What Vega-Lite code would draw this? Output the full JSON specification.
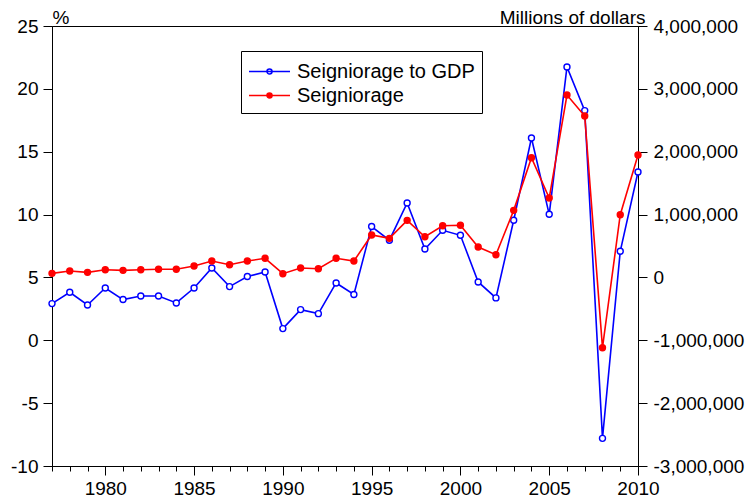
{
  "$schema": "https://vega.github.io/schema/vega-lite/v6.json",
  "width": 586,
  "height": 440,
  "autosize": {"type": "none"},
  "padding": {"left": 52, "top": 26, "right": 118, "bottom": 36},
  "background": "white",
  "config": {
    "view": {"stroke": "black", "strokeWidth": 1},
    "font": "Liberation Sans",
    "axis": {
      "domainColor": "black",
      "tickColor": "black",
      "labelColor": "black",
      "titleColor": "black",
      "grid": false,
      "labelFont": "Liberation Sans",
      "titleFont": "Liberation Sans",
      "labelFontSize": 19,
      "titleFontSize": 19,
      "titleFontWeight": "normal"
    },
    "legend": {
      "orient": "none",
      "legendX": 189,
      "legendY": 25,
      "padding": 7,
      "fillColor": "white",
      "strokeColor": "black",
      "symbolType": "M-1,0L2.28,0M0.44,0A0.2,0.2,0,1,1,0.84,0A0.2,0.2,0,1,1,0.44,0Z",
      "symbolSize": 625,
      "symbolStrokeWidth": 1.6,
      "symbolOpacity": 1,
      "labelOffset": 22,
      "labelFontSize": 20,
      "labelLimit": 0,
      "labelFont": "Liberation Sans",
      "labelColor": "black",
      "rowPadding": 0
    }
  },
  "data": {
    "values": [
      {"year": 1977, "ratio": 2.92, "seign": 65000},
      {"year": 1978, "ratio": 3.82, "seign": 102000},
      {"year": 1979, "ratio": 2.81, "seign": 81000},
      {"year": 1980, "ratio": 4.16, "seign": 122000},
      {"year": 1981, "ratio": 3.24, "seign": 113000},
      {"year": 1982, "ratio": 3.52, "seign": 122000},
      {"year": 1983, "ratio": 3.52, "seign": 129000},
      {"year": 1984, "ratio": 2.97, "seign": 129000},
      {"year": 1985, "ratio": 4.16, "seign": 181000},
      {"year": 1986, "ratio": 5.75, "seign": 261000},
      {"year": 1987, "ratio": 4.27, "seign": 202000},
      {"year": 1988, "ratio": 5.07, "seign": 261000},
      {"year": 1989, "ratio": 5.43, "seign": 304000},
      {"year": 1990, "ratio": 0.93, "seign": 59000},
      {"year": 1991, "ratio": 2.44, "seign": 150000},
      {"year": 1992, "ratio": 2.12, "seign": 138000},
      {"year": 1993, "ratio": 4.56, "seign": 304000},
      {"year": 1994, "ratio": 3.64, "seign": 261000},
      {"year": 1995, "ratio": 9.05, "seign": 675000},
      {"year": 1996, "ratio": 7.96, "seign": 622000},
      {"year": 1997, "ratio": 10.92, "seign": 908000},
      {"year": 1998, "ratio": 7.26, "seign": 647000},
      {"year": 1999, "ratio": 8.75, "seign": 822000},
      {"year": 2000, "ratio": 8.35, "seign": 829000},
      {"year": 2001, "ratio": 4.64, "seign": 484000},
      {"year": 2002, "ratio": 3.37, "seign": 361000},
      {"year": 2003, "ratio": 9.55, "seign": 1067000},
      {"year": 2004, "ratio": 16.09, "seign": 1904000},
      {"year": 2005, "ratio": 10.02, "seign": 1263000},
      {"year": 2006, "ratio": 21.74, "seign": 2902000},
      {"year": 2007, "ratio": 18.27, "seign": 2568000},
      {"year": 2008, "ratio": -7.8, "seign": -1118000},
      {"year": 2009, "ratio": 7.08, "seign": 997000},
      {"year": 2010, "ratio": 13.39, "seign": 1947000}
    ]
  },
  "encoding": {
    "x": {
      "field": "year",
      "type": "quantitative",
      "scale": {"domain": [1977, 2010], "nice": false, "zero": false},
      "axis": {
        "title": null,
        "values": [1977,1978,1979,1980,1981,1982,1983,1984,1985,1986,1987,1988,1989,1990,1991,1992,1993,1994,1995,1996,1997,1998,1999,2000,2001,2002,2003,2004,2005,2006,2007,2008,2009,2010],
        "labelExpr": "datum.value % 5 === 0 ? format(datum.value, 'd') : ''",
        "tickSize": {"condition": {"test": "datum.value % 5 === 0", "value": 9}, "value": 5},
        "labelPadding": 4,
        "labelFlush": false,
        "labelOverlap": false
      }
    }
  },
  "layer": [
    {
      "encoding": {
        "y": {
          "field": "ratio",
          "type": "quantitative",
          "scale": {"domain": [-10, 25], "nice": false, "zero": false},
          "axis": {
            "title": "%",
            "titleAngle": 0,
            "titleAlign": "left",
            "titleBaseline": "alphabetic",
            "titleX": 0,
            "titleY": -3,
            "values": [-10, -5, 0, 5, 10, 15, 20, 25],
            "labelExpr": "(datum.value < 0 ? '-' : '') + format(abs(datum.value), 'd')",
            "tickSize": 9,
            "labelPadding": 5
          }
        },
        "stroke": {
          "datum": "Seigniorage to GDP",
          "type": "nominal",
          "scale": {"domain": ["Seigniorage to GDP", "Seigniorage"], "range": ["#0000ff", "#ff0000"]},
          "legend": {"title": null}
        }
      },
      "layer": [
        {"mark": {"type": "line", "strokeWidth": 1.6}},
        {
          "mark": {"type": "point", "size": 36, "strokeWidth": 1.4, "opacity": 1},
          "encoding": {
            "fill": {
              "datum": "Seigniorage to GDP",
              "type": "nominal",
              "scale": {"domain": ["Seigniorage to GDP", "Seigniorage"], "range": ["#ffffff", "#ff0000"]},
              "legend": {"title": null}
            }
          }
        }
      ]
    },
    {
      "encoding": {
        "y": {
          "field": "seign",
          "type": "quantitative",
          "scale": {"domain": [-3000000, 4000000], "nice": false, "zero": false},
          "axis": {
            "title": "Millions of dollars",
            "orient": "right",
            "titleAngle": 0,
            "titleAlign": "right",
            "titleBaseline": "alphabetic",
            "titleX": 7,
            "titleY": -3,
            "values": [-3000000, -2000000, -1000000, 0, 1000000, 2000000, 3000000, 4000000],
            "labelExpr": "(datum.value < 0 ? '-' : '') + format(abs(datum.value), ',.0f')",
            "tickSize": 9,
            "labelPadding": 6
          }
        },
        "stroke": {"datum": "Seigniorage", "type": "nominal"}
      },
      "layer": [
        {"mark": {"type": "line", "strokeWidth": 1.6}},
        {
          "mark": {"type": "point", "size": 36, "strokeWidth": 1.4, "opacity": 1},
          "encoding": {"fill": {"datum": "Seigniorage", "type": "nominal"}}
        }
      ]
    }
  ],
  "resolve": {"scale": {"y": "independent"}}
}
